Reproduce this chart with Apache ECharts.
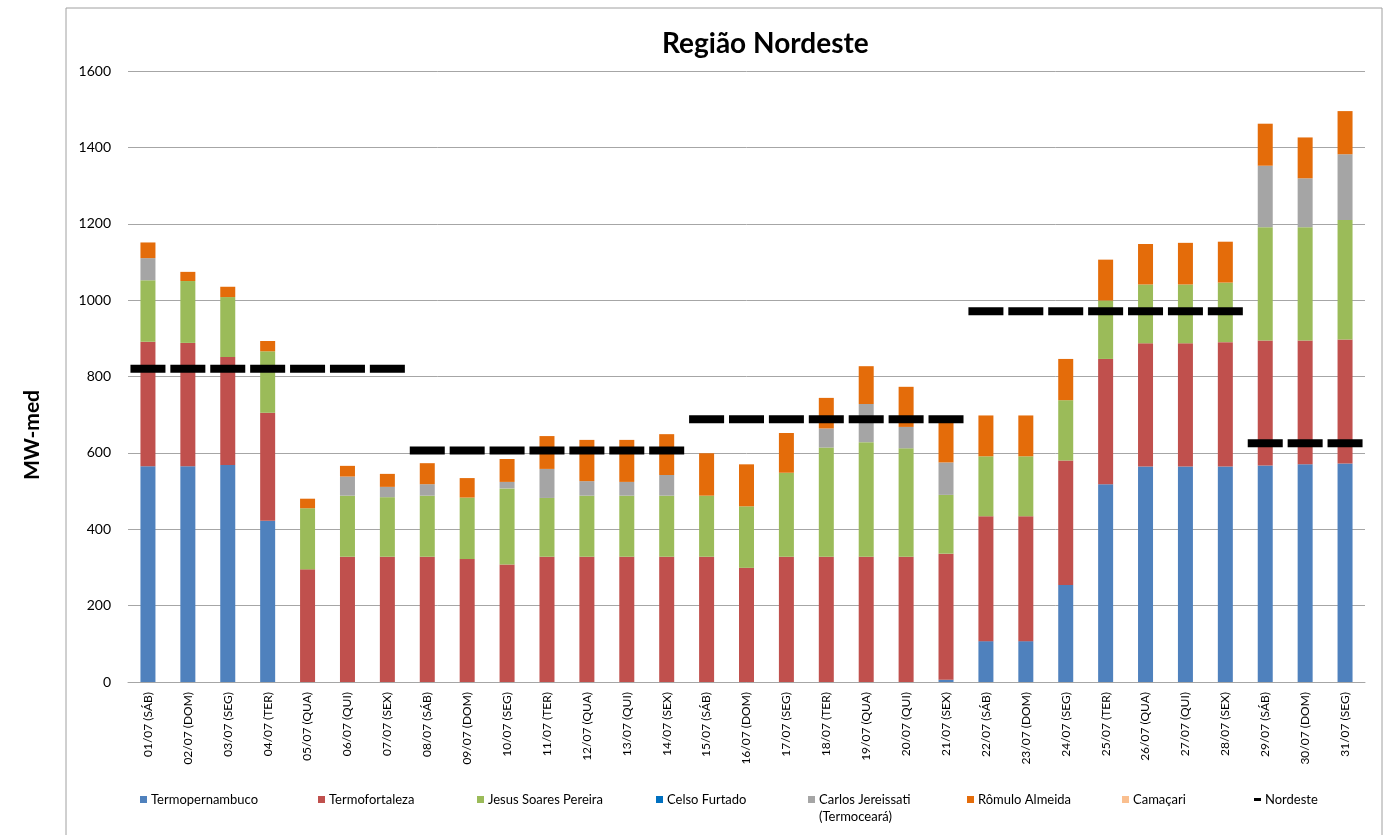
<!DOCTYPE html>
<html>
<head>
<meta charset="utf-8">
<script src="https://cdn.jsdelivr.net/npm/echarts@6/dist/echarts.min.js"></script>
<style>
    html, body { margin: 0; padding: 0; background: #fff; }
    #chart { width: 1392px; height: 835px; }
</style>
</head>
<body>
<div id="chart"></div>
<script>
    // dias do mês
    var days = ['01/07 (SÁB)', '02/07 (DOM)', '03/07 (SEG)', '04/07 (TER)', '05/07 (QUA)', '06/07 (QUI)', '07/07 (SEX)',
        '08/07 (SÁB)', '09/07 (DOM)', '10/07 (SEG)', '11/07 (TER)', '12/07 (QUA)', '13/07 (QUI)', '14/07 (SEX)',
        '15/07 (SÁB)', '16/07 (DOM)', '17/07 (SEG)', '18/07 (TER)', '19/07 (QUA)', '20/07 (QUI)', '21/07 (SEX)',
        '22/07 (SÁB)', '23/07 (DOM)', '24/07 (SEG)', '25/07 (TER)', '26/07 (QUA)', '27/07 (QUI)', '28/07 (SEX)',
        '29/07 (SÁB)', '30/07 (DOM)', '31/07 (SEG)'];

    var termopernambuco = [565, 565, 568, 422, 0, 0, 0, 0, 0, 0, 0, 0, 0, 0, 0, 0, 0, 0, 0, 0, 6, 107, 107, 254, 518, 564, 564, 564, 567, 570, 572];
    var termofortaleza = [326, 323, 283, 283, 295, 328, 328, 328, 322, 308, 328, 328, 328, 328, 328, 299, 328, 328, 328, 328, 330, 327, 327, 326, 328, 323, 323, 326, 327, 324, 325];
    var jesusSoares = [161, 162, 157, 161, 160, 160, 156, 160, 161, 199, 154, 160, 160, 160, 160, 161, 220, 286, 300, 284, 154, 157, 157, 158, 153, 154, 154, 156, 297, 297, 313];
    var celsoFurtado = [0, 0, 0, 0, 0, 0, 0, 0, 0, 0, 0, 0, 0, 0, 0, 0, 0, 0, 0, 0, 0, 0, 0, 0, 0, 0, 0, 0, 0, 0, 0];
    var carlosJereissati = [58, 0, 0, 0, 0, 50, 27, 30, 0, 17, 76, 38, 36, 54, 0, 0, 0, 50, 100, 56, 85, 0, 0, 0, 0, 0, 0, 0, 161, 128, 172];
    var romuloAlmeida = [41, 24, 27, 27, 25, 28, 34, 55, 51, 60, 86, 108, 110, 107, 111, 110, 104, 80, 99, 105, 113, 107, 107, 108, 107, 106, 109, 107, 110, 107, 113];
    var camacari = [0, 0, 0, 0, 0, 0, 0, 0, 0, 0, 0, 0, 0, 0, 0, 0, 0, 0, 0, 0, 0, 0, 0, 0, 0, 0, 0, 0, 0, 0, 0];
    var nordeste = [820, 820, 820, 820, 820, 820, 820, 606, 606, 606, 606, 606, 606, 606,
        688, 688, 688, 688, 688, 688, 688, 971, 971, 971, 971, 971, 971, 971, 625, 625, 625];

    var yTicks = [0, 200, 400, 600, 800, 1000, 1200, 1400, 1600];

    var font = 'Lato';
    var names = ['Termopernambuco', 'Termofortaleza', 'Jesus Soares Pereira', 'Celso Furtado',
        'Carlos Jereissati (Termoceará)', 'Rômulo Almeida', 'Camaçari', 'Nordeste'];
    var colors = ['#4F81BD', '#C0504D', '#9BBB59', '#0070C0', '#A5A5A5', '#E46C0A', '#FABF8F', '#000000'];
    var legendLeft = [140, 318, 477, 656, 808, 967, 1122, 1254];

    function barSeries(name, data, color) {
        return {
            name: name,
            type: 'bar',
            stack: 'total',
            barWidth: 15,
            data: data,
            itemStyle: {color: color},
            emphasis: {disabled: true}
        };
    }

    var legends = names.map(function (n, i) {
        var isLine = n === 'Nordeste';
        return {
            data: [{name: n, icon: 'rect', itemStyle: {color: colors[i], opacity: 1}}],
            left: legendLeft[i],
            top: 793,
            padding: 0,
            itemWidth: 7,
            itemHeight: isLine ? 3 : 7,
            itemGap: 0,
            textStyle: {fontFamily: font, fontSize: 13, color: '#000', padding: [0, 0, 0, -1]},
            formatter: function (name) {
                return name === 'Carlos Jereissati (Termoceará)' ? 'Carlos Jereissati' : name;
            }
        };
    });

    var chart = echarts.init(document.getElementById('chart'));
    chart.setOption({
        animation: false,
        color: colors,
        title: {
            text: 'Região Nordeste',
            left: 657,
            top: 25,
            textStyle: {fontFamily: font, fontSize: 28, fontWeight: 'bold', color: '#000'}
        },
        graphic: [{
            type: 'rect',
            shape: {x: 66, y: 8, width: 1316, height: 900},
            style: {fill: 'none', stroke: '#A0A0A0', lineWidth: 1},
            silent: true
        }, {
            type: 'text',
            x: 32,
            y: 435,
            rotation: Math.PI / 2,
            style: {
                text: 'MW-med', fontFamily: font, fontSize: 21, fontWeight: 'bold', fill: '#000',
                align: 'center', verticalAlign: 'middle'
            },
            silent: true
        }, {
            type: 'text',
            x: 819,
            y: 810,
            style: {text: '(Termoceará)', fontFamily: font, fontSize: 13, fill: '#000'},
            silent: true
        }],
        legend: legends,
        grid: {left: 128, right: 27, top: 71, bottom: 153},
        xAxis: {
            type: 'category',
            data: days,
            axisTick: {show: false},
            axisLine: {lineStyle: {color: '#A6A6A6', width: 1}},
            axisLabel: {
                interval: 0,
                rotate: 90,
                margin: 10,
                fontFamily: font,
                fontSize: 12,
                color: '#000'
            }
        },
        yAxis: {
            type: 'value',
            min: yTicks[0],
            max: yTicks[yTicks.length - 1],
            interval: 200,
            axisLine: {show: false},
            axisTick: {show: false},
            axisLabel: {
                fontFamily: font, fontSize: 14, color: '#000', margin: 17,
                formatter: function (v) { return String(v); }
            },
            splitLine: {lineStyle: {color: '#A6A6A6', width: 1}}
        },
        series: [
            barSeries(names[0], termopernambuco, colors[0]),
            barSeries(names[1], termofortaleza, colors[1]),
            barSeries(names[2], jesusSoares, colors[2]),
            barSeries(names[3], celsoFurtado, colors[3]),
            barSeries(names[4], carlosJereissati, colors[4]),
            barSeries(names[5], romuloAlmeida, colors[5]),
            barSeries(names[6], camacari, colors[6]),
            {
                name: names[7],
                type: 'scatter',
                data: nordeste,
                symbol: 'rect',
                symbolSize: [35, 8],
                itemStyle: {color: '#000', opacity: 1},
                z: 5
            }
        ]
    });
</script>
</body>
</html>
